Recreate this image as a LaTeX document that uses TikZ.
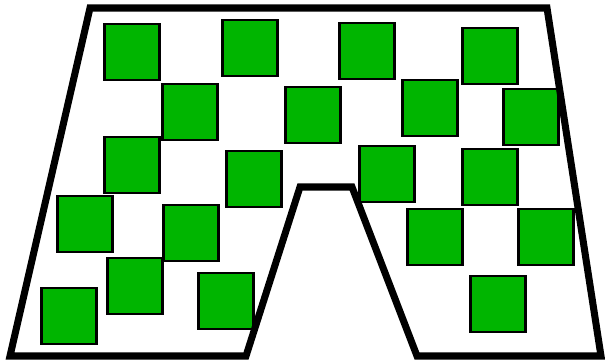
\documentclass[tikz,border=0pt]{standalone}
\usepackage{xcolor}
\usepackage{tikz}
\definecolor{tilegreen}{RGB}{0, 181, 0}

\begin{document}
\begin{tikzpicture}[x=0.02cm, y=-0.02cm,
    tile/.style={draw=black, line width=1.2pt, fill=tilegreen,
                 minimum width=1.1cm, minimum height=1.13cm, inner sep=0pt}]
    \useasboundingbox (0,0) rectangle (605,364);
    % Green tiles scattered over the floor
    \foreach \x/\y [count=\i] in {132/52, 250/48, 367/51, 490/56,
                                  190/112, 313/115, 430/108, 531/117,
                                  132/165, 254/179, 387/174, 490/177,
                                  85/224, 191/233, 135/286, 69/316,
                                  226/301, 435/237, 546/237, 498/304} {
        \node[tile] (sq\i) at (\x, \y) {};
    }
    % Outline with the arch cut out at the bottom
    \draw[line width=4pt, line join=miter]
        (90,8) -- (547,8) -- (601,356) -- (417,356) -- (352,187)
        -- (300,187) -- (246,356) -- (10,356) -- cycle;
\end{tikzpicture}
\end{document}
